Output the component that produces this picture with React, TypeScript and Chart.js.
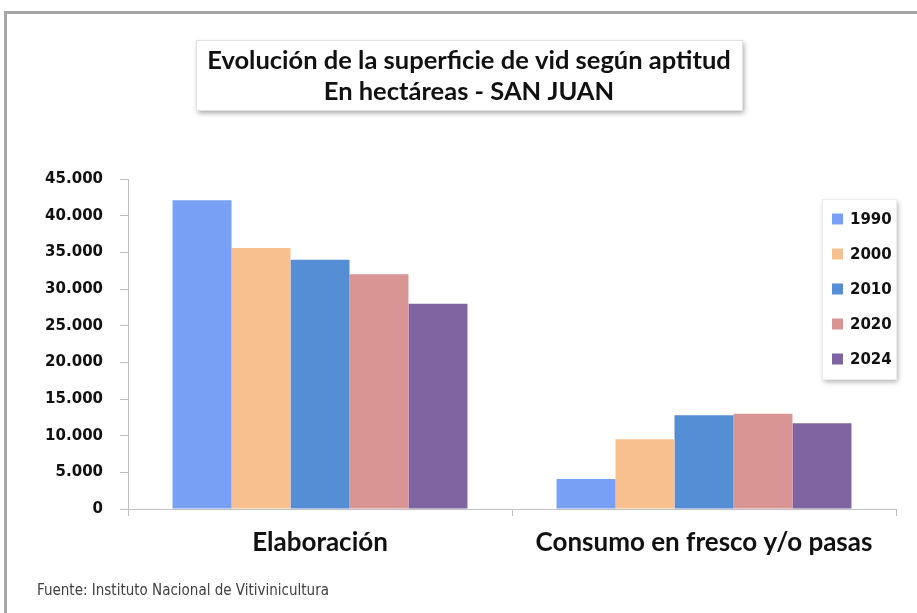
import React, { useEffect, useRef } from "react";
import { Chart, registerables } from "chart.js";
Chart.register(...registerables);

const CATEGORIES = ["Elaboración", "Consumo en fresco y/o pasas"];
const YEARS = ["1990", "2000", "2010", "2020", "2024"];
const V1990 = [42100, 4100];
const V2000 = [35600, 9500];
const V2010 = [34000, 12800];
const V2020 = [32000, 13000];
const V2024 = [28000, 11700];
const SERIES = [V1990, V2000, V2010, V2020, V2024];
const COLORS = ["#78A1F6", "#F8C08F", "#558ED5", "#D99594", "#8064A2"];
const TITLE_LINES = ["Evolución de la superficie de vid según aptitud", "En hectáreas - SAN JUAN"];
const SOURCE = "Fuente: Instituto Nacional de Vitivinicultura";
const Y_MAX = 45000;
const Y_STEP = 5000;

const fmt = (v: number) => String(Math.round(v)).replace(/\B(?=(\d{3})+(?!\d))/g, ".");

const decor = {
  id: "decor",
  beforeDraw(chart: any) {
    const ctx = chart.ctx;
    ctx.save();
    ctx.fillStyle = "#fff";
    ctx.fillRect(0, 0, chart.width, chart.height);
    // frame
    ctx.strokeStyle = "#a6a6a6";
    ctx.lineWidth = 3;
    ctx.beginPath();
    ctx.moveTo(5.5, chart.height + 5);
    ctx.lineTo(5.5, 12.5);
    ctx.lineTo(chart.width + 5, 12.5);
    ctx.stroke();
    // title box
    ctx.shadowColor = "rgba(0,0,0,0.35)";
    ctx.shadowBlur = 5;
    ctx.shadowOffsetX = 2;
    ctx.shadowOffsetY = 3;
    ctx.fillStyle = "#fff";
    ctx.fillRect(196, 40, 546, 70);
    ctx.shadowColor = "transparent";
    ctx.strokeStyle = "#e2e2e2";
    ctx.lineWidth = 1;
    ctx.strokeRect(196.5, 40.5, 546, 70);
    ctx.fillStyle = "#111";
    ctx.font = "bold 25.5px Lato, sans-serif";
    ctx.textAlign = "center";
    ctx.textBaseline = "middle";
    ctx.fillText(TITLE_LINES[0], 469, 61);
    ctx.fillText(TITLE_LINES[1], 469, 92);
    ctx.restore();
  },
  afterDraw(chart: any) {
    const ctx = chart.ctx;
    ctx.save();
    // legend box
    ctx.shadowColor = "rgba(0,0,0,0.3)";
    ctx.shadowBlur = 5;
    ctx.shadowOffsetX = 2;
    ctx.shadowOffsetY = 3;
    ctx.fillStyle = "#fff";
    ctx.fillRect(822, 199, 74, 180);
    ctx.shadowColor = "transparent";
    ctx.strokeStyle = "#ececec";
    ctx.lineWidth = 1;
    ctx.strokeRect(822.5, 199.5, 74, 180);
    ctx.font = "bold 15px 'DejaVu Sans', sans-serif";
    ctx.textAlign = "left";
    ctx.textBaseline = "middle";
    chart.data.datasets.forEach((ds: any, i: number) => {
      const cy = 219 + i * 35;
      ctx.fillStyle = ds.backgroundColor;
      ctx.fillRect(832, cy - 5.5, 11, 11);
      ctx.fillStyle = "#111";
      ctx.fillText(ds.label, 850, cy + 1);
    });
    // source
    ctx.font = "15px 'Liberation Sans Narrow', 'DejaVu Sans Condensed', sans-serif";
    ctx.fillStyle = "#404040";
    ctx.fillText(SOURCE, 37, 591);
    ctx.restore();
  },
};

export default function App() {
  const ref = useRef<HTMLCanvasElement | null>(null);
  useEffect(() => {
    if (!ref.current) return;
    const chart = new Chart(ref.current, {
      type: "bar",
      data: {
        labels: CATEGORIES,
        datasets: YEARS.map((y, i) => ({
          label: y,
          data: SERIES[i],
          backgroundColor: COLORS[i],
          borderWidth: 0,
          categoryPercentage: 0.768,
          barPercentage: 1.0,
        })),
      },
      options: {
        responsive: false,
        animation: false,
        devicePixelRatio: 1,
        layout: { padding: { top: 179, right: 21, left: 0, bottom: 0 } },
        plugins: {
          legend: { display: false },
          title: { display: false },
          tooltip: { enabled: false },
        },
        scales: {
          x: {
            grid: { display: true, drawOnChartArea: false, drawTicks: true, tickLength: 7, color: "#bfbfbf", offset: true },
            border: { display: true, color: "#bfbfbf", width: 1 },
            ticks: { font: { family: "Lato", weight: "bold", size: 26 }, color: "#111", padding: 11 },
            afterFit: (s: any) => { s.height = 104; },
          },
          y: {
            min: 0,
            max: Y_MAX,
            ticks: {
              stepSize: Y_STEP,
              callback: (v: any) => fmt(Number(v)),
              font: { family: "DejaVu Sans", weight: "bold", size: 15 },
              color: "#111",
              padding: 17,
            },
            grid: { drawOnChartArea: false, tickLength: 8, color: "#bfbfbf" },
            border: { display: true, color: "#bfbfbf", width: 1 },
            afterFit: (s: any) => { s.width = 128; },
          },
        },
      },
      plugins: [decor],
    });
    return () => chart.destroy();
  }, []);
  return (
    <div style={{ position: "absolute", left: 0, top: 0, width: 917, height: 613, background: "#fff" }}>
      <canvas ref={ref} width={917} height={613} style={{ display: "block" }} />
    </div>
  );
}
